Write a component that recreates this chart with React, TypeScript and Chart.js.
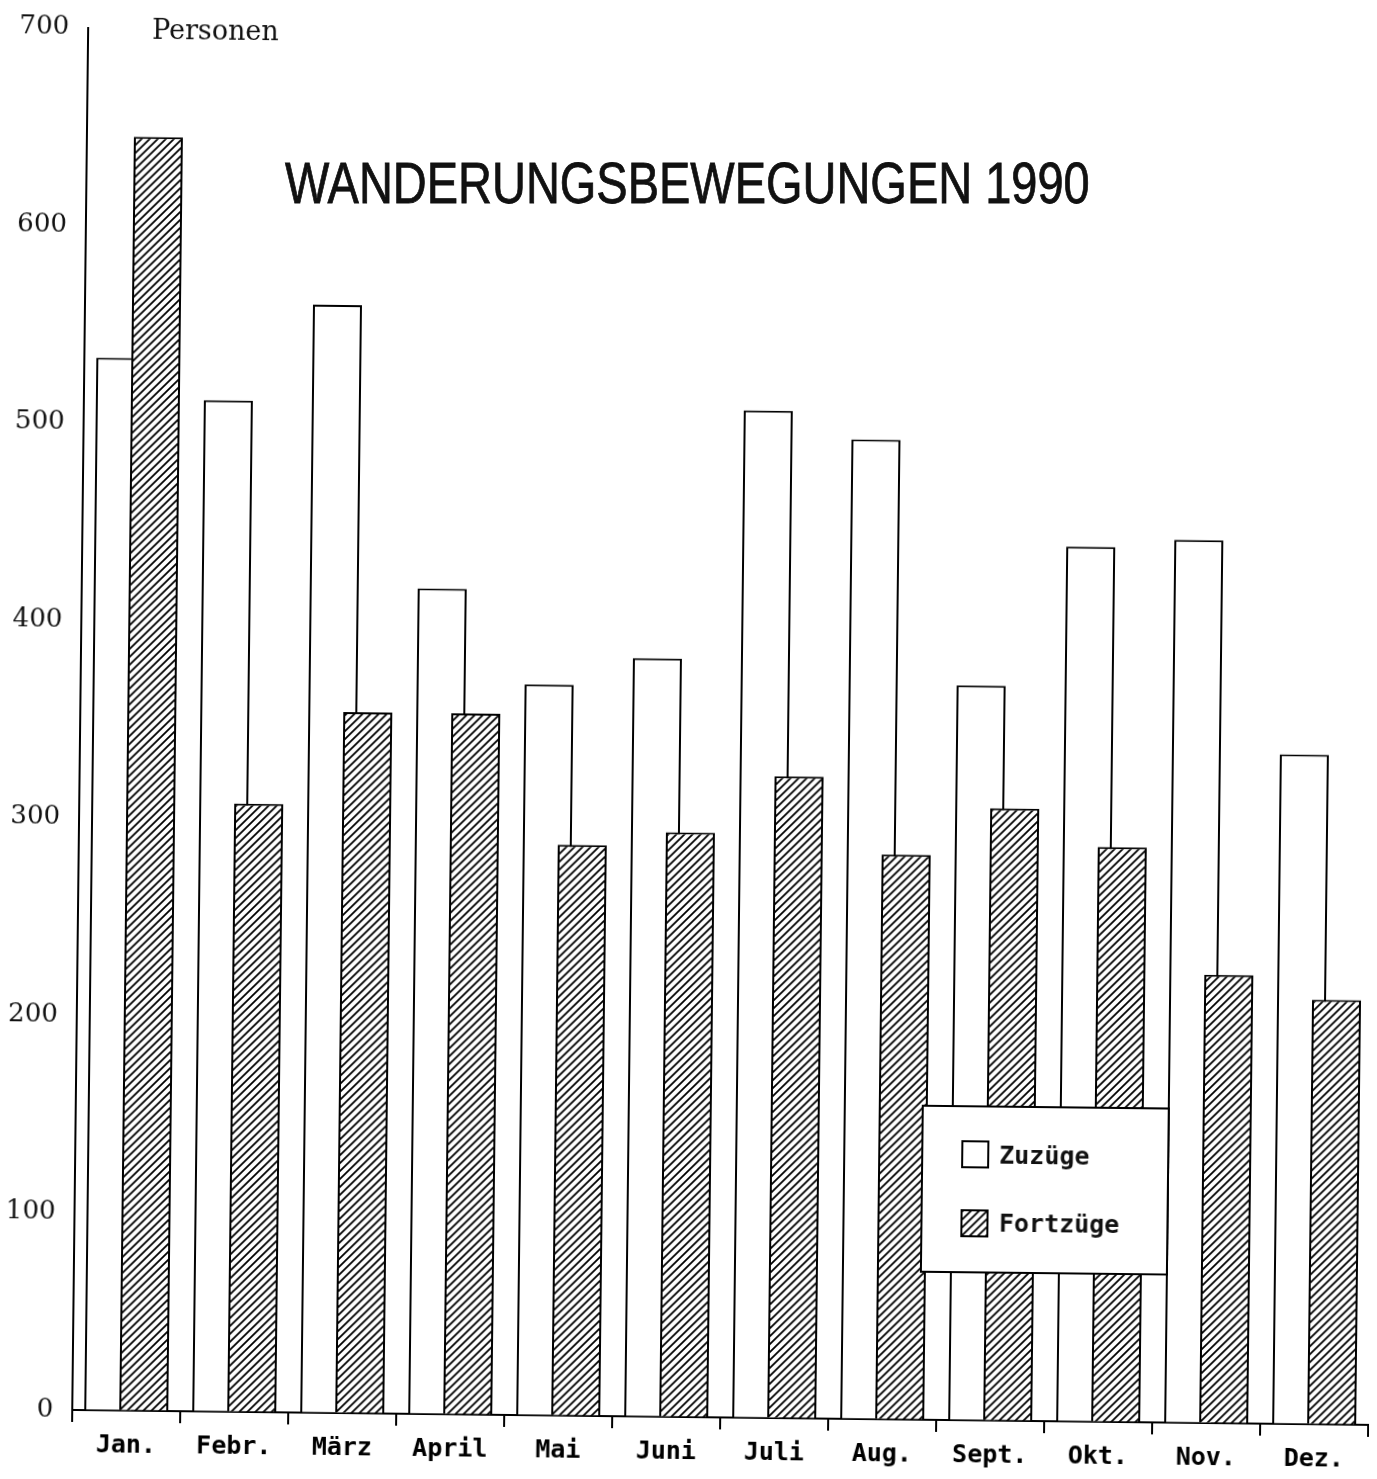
import React, { useEffect, useLayoutEffect, useRef, useState } from 'react';
import { Chart, registerables } from 'chart.js';

Chart.register(...registerables);

// ---- data ----
const months = ['Jan.', 'Febr.', 'März', 'April', 'Mai', 'Juni', 'Juli', 'Aug.', 'Sept.', 'Okt.', 'Nov.', 'Dez.'];
const zuzuege = [533, 512, 561, 418, 370, 384, 510, 496, 372, 443, 447, 339];
const fortzuege = [645, 308, 355, 355, 289, 296, 325, 286, 310, 291, 227, 215];
const yTickValues = [0, 100, 200, 300, 400, 500, 600, 700];
const seriesNames = ['Zuzüge', 'Fortzüge'];
const chartTitle = 'WANDERUNGSBEWEGUNGEN 1990';
const unitLabel = 'Personen';

const W = 1377;
const H = 1479;
const TILT_DEG = 0.66;

function makeHatchTile(): HTMLCanvasElement {
  const s = 8;
  const c = document.createElement('canvas');
  c.width = s;
  c.height = s;
  const g = c.getContext('2d')!;
  g.fillStyle = '#fff';
  g.fillRect(0, 0, s, s);
  g.strokeStyle = '#000';
  g.lineWidth = 1.8;
  g.beginPath();
  g.moveTo(-1, s + 1);
  g.lineTo(s + 1, -1);
  g.moveTo(-1, 1);
  g.lineTo(1, -1);
  g.moveTo(s - 1, s + 1);
  g.lineTo(s + 1, s - 1);
  g.stroke();
  return c;
}

// draw datasets in index order so the hatched bar lies in front
const drawInIndexOrder = {
  id: 'drawInIndexOrder',
  beforeDatasetsDraw(chart: any) {
    for (let i = 0; i < chart.data.datasets.length; i++) {
      const meta = chart.getDatasetMeta(i);
      if (chart.isDatasetVisible(i)) meta.controller.draw();
    }
    return false;
  },
};

export default function App() {
  const canvasRef = useRef<HTMLCanvasElement | null>(null);
  const titleRef = useRef<HTMLSpanElement | null>(null);
  const [hatchUrl, setHatchUrl] = useState<string>('');
  const [titleScale, setTitleScale] = useState<number>(1);

  useLayoutEffect(() => {
    if (titleRef.current) {
      const w = titleRef.current.offsetWidth;
      if (w > 0) setTitleScale(805 / w);
    }
  }, []);

  useEffect(() => {
    const tile = makeHatchTile();
    setHatchUrl(tile.toDataURL());
    const ctx = canvasRef.current!.getContext('2d')!;
    const hatch = ctx.createPattern(tile, 'repeat')!;

    const chart = new Chart(ctx, {
      type: 'bar',
      data: {
        labels: months,
        datasets: [
          {
            label: seriesNames[0],
            data: zuzuege,
            backgroundColor: '#ffffff',
            borderColor: '#000000',
            borderWidth: 2,
            categoryPercentage: 0.648,
            barPercentage: 1.4,
          },
          {
            label: seriesNames[1],
            data: fortzuege,
            backgroundColor: hatch as any,
            borderColor: '#000000',
            borderWidth: 2,
            categoryPercentage: 0.648,
            barPercentage: 1.4,
          },
        ],
      },
      options: {
        responsive: false,
        animation: false,
        events: [],
        layout: { padding: { top: 27, right: 1, bottom: 0, left: 0 } },
        plugins: {
          legend: { display: false },
          tooltip: { enabled: false },
          title: { display: false },
        },
        scales: {
          x: {
            offset: true,
            grid: {
              offset: true,
              drawOnChartArea: false,
              drawTicks: true,
              tickLength: 12,
              color: '#000',
              lineWidth: 2,
            },
            border: { display: true, color: '#000', width: 2 },
            ticks: {
              color: '#000',
              padding: 8,
              font: { family: '"DejaVu Sans Mono", monospace', size: 25, weight: 'bold' },
              maxRotation: 0,
              autoSkip: false,
            },
            afterFit: (scale: any) => {
              scale.height = 62;
            },
          },
          y: {
            min: 0,
            max: 700,
            grid: { display: true, drawOnChartArea: false, drawTicks: false },
            border: { display: true, color: '#000', width: 2 },
            ticks: {
              color: '#111',
              padding: 19,
              font: { family: '"DejaVu Serif", serif', size: 26 },
              callback: (v: any) => String(v),
            },
            afterBuildTicks: (scale: any) => {
              scale.ticks = yTickValues.map((v) => ({ value: v }));
            },
            afterFit: (scale: any) => {
              scale.width = 80;
            },
          },
        },
      },
      plugins: [drawInIndexOrder],
    });
    return () => chart.destroy();
  }, []);

  const monoBold: React.CSSProperties = {
    fontFamily: '"DejaVu Sans Mono", monospace',
    fontWeight: 'bold',
    fontSize: 25,
    lineHeight: '25px',
    color: '#111',
    position: 'absolute',
    whiteSpace: 'nowrap',
  };

  const swatch: React.CSSProperties = {
    position: 'absolute',
    width: 28,
    height: 28,
    boxSizing: 'border-box',
    border: '2px solid #000',
  };

  return (
    <div style={{ position: 'absolute', left: 0, top: 0, width: W, height: H, overflow: 'hidden', background: '#fff' }}>
      <div
        style={{
          position: 'absolute',
          left: 0,
          top: 0,
          width: W,
          height: H,
          transform: `rotate(${TILT_DEG}deg)`,
          transformOrigin: '688px 740px',
        }}
      >
        <canvas ref={canvasRef} width={W} height={H} style={{ display: 'block', width: W, height: H }} />
        <div
          style={{
            position: 'absolute',
            left: 144,
            top: 22,
            fontFamily: '"DejaVu Serif", serif',
            fontSize: 27,
            lineHeight: '27px',
            color: '#111',
            whiteSpace: 'nowrap',
          }}
        >
          {unitLabel}
        </div>
        <div
          style={{
            position: 'absolute',
            left: 926,
            top: 1102,
            width: 248,
            height: 168,
            boxSizing: 'border-box',
            border: '2px solid #000',
            background: '#fff',
          }}
        >
          <div style={{ ...swatch, left: 37.5, top: 32.5, background: '#fff' }} />
          <div style={{ ...monoBold, left: 76, top: 35 }}>{seriesNames[0]}</div>
          <div
            style={{
              ...swatch,
              left: 37.5,
              top: 101.5,
              backgroundImage: hatchUrl ? `url(${hatchUrl})` : undefined,
              backgroundRepeat: 'repeat',
            }}
          />
          <div style={{ ...monoBold, left: 76.5, top: 103 }}>{seriesNames[1]}</div>
        </div>
      </div>
      <div
        style={{
          position: 'absolute',
          left: 285,
          top: 155,
          fontFamily: '"Liberation Sans", Arial, sans-serif',
          fontSize: 57,
          lineHeight: '57px',
          color: '#111',
          WebkitTextStroke: '0.8px #111',
          whiteSpace: 'nowrap',
          transformOrigin: '0 0',
          transform: `scaleX(${titleScale})`,
        }}
      >
        <span ref={titleRef} style={{ display: 'inline-block' }}>
          {chartTitle}
        </span>
      </div>
    </div>
  );
}
